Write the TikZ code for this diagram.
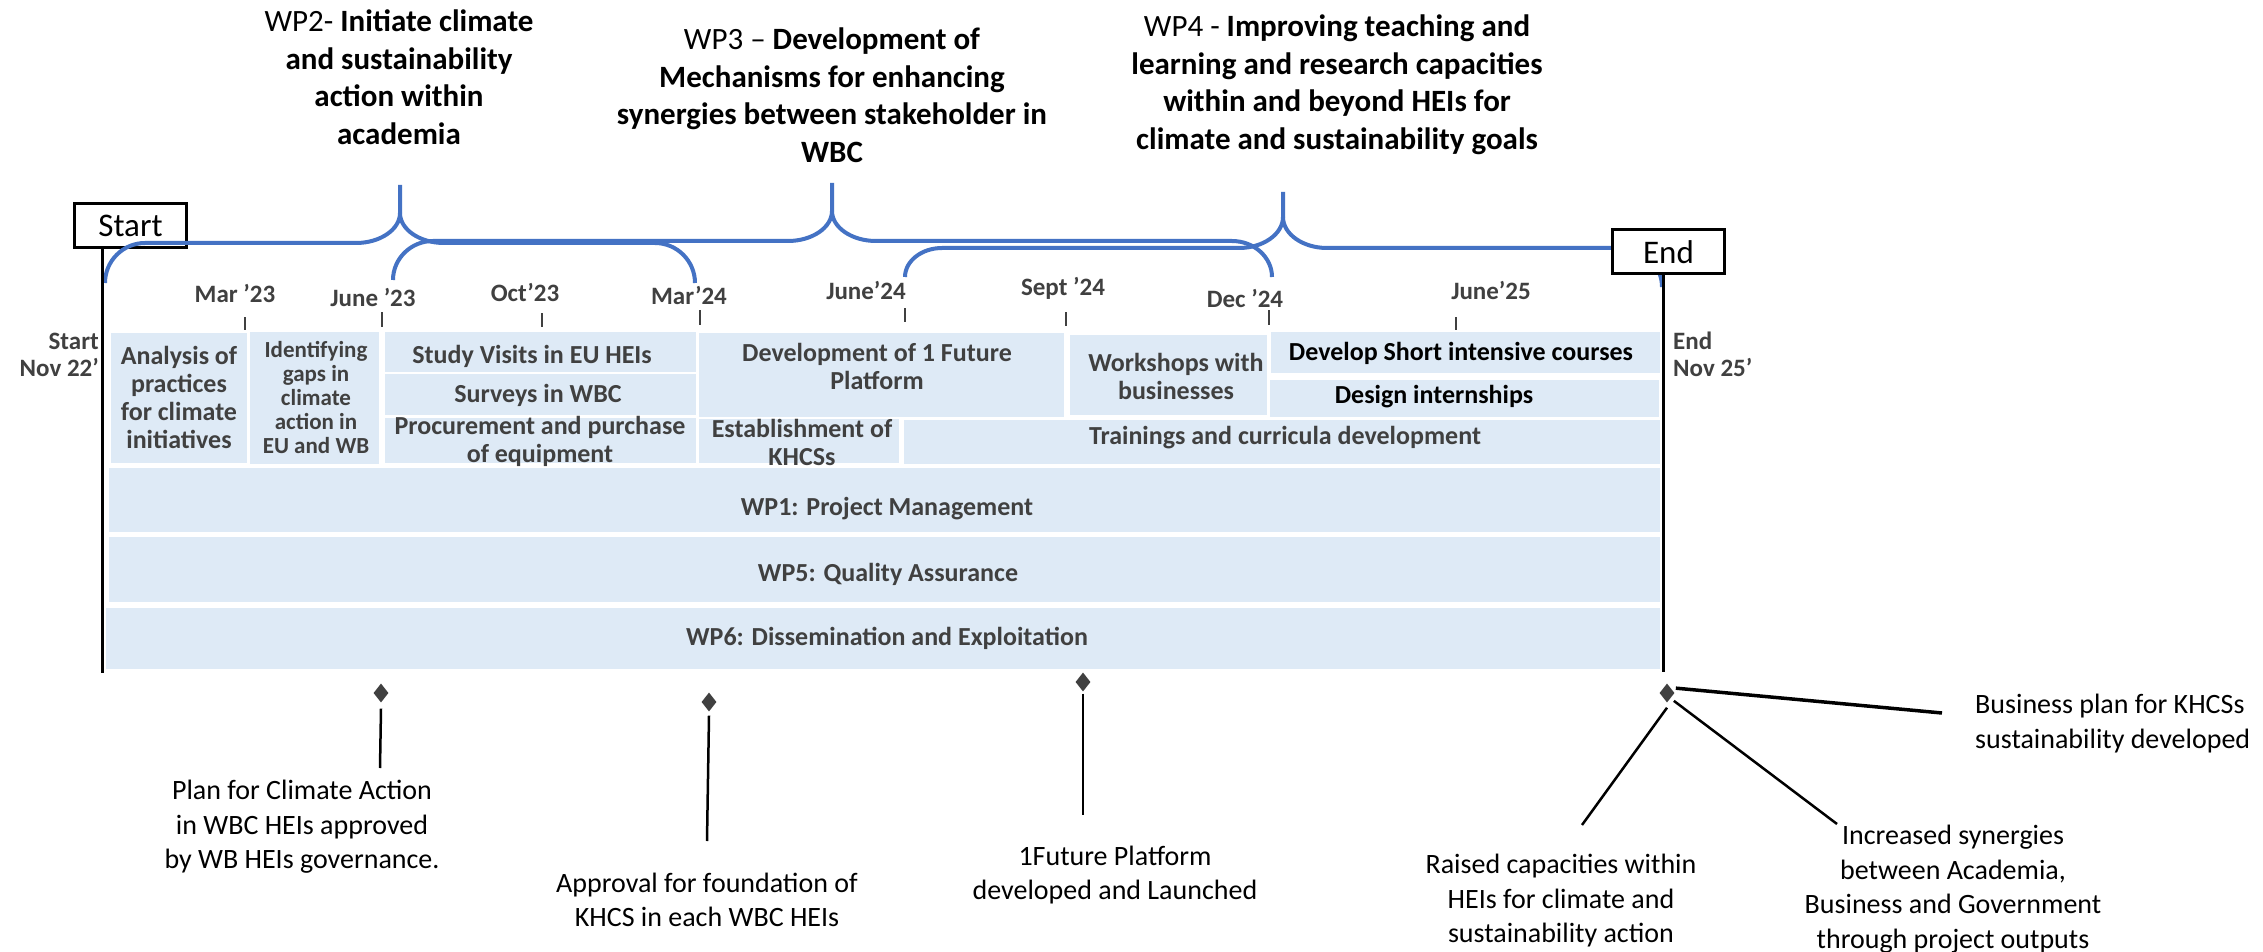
\documentclass[tikz,border=0pt]{standalone}
\usepackage{fontspec}
\setmainfont{Carlito}
\usetikzlibrary{shapes.geometric}
\definecolor{wpblue}{HTML}{4472C4}
\definecolor{boxfill}{HTML}{DEEAF6}
\definecolor{txtgray}{HTML}{404040}
\newcommand\wpbrace[9]{%
 % #1 xl, #2 yend-left, #3 r-left, #4 xt, #5 yh, #6 ytip, #7 ytop, #8 xr, #9 yend-right
 \draw[brace] (#1,#2) .. controls (#1,{#2+0.55*(#5-#2)}) and ({#1+0.45*#3},#5) .. ({#1+#3},#5)
   -- ({#4-44},#5) .. controls ({#4-0.45*44},#5) and (#4,{#6+0.55*(#5-#6)}) .. (#4,#6) -- (#4,#7);
 \draw[brace] (#4,#6) .. controls (#4,{#6+0.55*(#5-#6)}) and ({#4+0.45*44},#5) .. ({#4+44},#5)
   -- ({#8-40},#5) .. controls ({#8-0.45*40},#5) and (#8,{#9+0.55*(#5-#9)}) .. (#8,#9);}
\begin{document}
\begin{tikzpicture}[x=1pt,y=-1pt,
 bx/.style={rectangle, fill=boxfill, draw=none, inner sep=0pt},
 btxt/.style={font=\fontsize{26}{28}\selectfont\bfseries, text=txtgray, align=center, inner sep=0pt},
 ttl/.style={font=\fontsize{31}{37.5}\selectfont, align=center, inner sep=0pt},
 datel/.style={font=\fontsize{25}{27}\selectfont\bfseries, text=txtgray, inner sep=0pt},
 tickl/.style={draw=txtgray, line width=2pt},
 brace/.style={draw=wpblue, line width=4pt},
 tbox/.style={draw=black, line width=3pt, fill=white, font=\fontsize{33}{36}\selectfont, minimum width=112pt, minimum height=44pt, inner sep=0pt},
 vline/.style={draw=black, line width=3pt},
 dia/.style={diamond, fill=txtgray, inner sep=0pt, minimum width=15pt, minimum height=19pt},
 ms/.style={draw=black, line width=2.5pt},
 mtxt/.style={font=\fontsize{28}{34.5}\selectfont, align=center, inner sep=0pt},
]
\fill[white] (0,0) rectangle (2263,952);
\useasboundingbox (0,0) rectangle (2263,952);

% titles
\node[ttl] (wp2) at (399,77) {WP2- \textbf{Initiate climate}\\\textbf{and sustainability}\\\textbf{action within}\\\textbf{academia}};
\node[ttl] (wp3) at (832,95) {WP3 – \textbf{Development of}\\\textbf{Mechanisms for enhancing}\\\textbf{synergies between stakeholder in}\\\textbf{WBC}};
\node[ttl] (wp4) at (1337,85) {WP4 - \textbf{Improving teaching and}\\\textbf{learning and research capacities}\\\textbf{within and beyond HEIs for}\\\textbf{climate and sustainability goals}};

% start box
\node[tbox] (sbox) at (130.5,225.5) {Start};

% braces
\wpbrace{105}{283}{40}{400}{243}{213}{185}{695}{283}
\wpbrace{393}{280}{40}{832}{241}{211}{183}{1272}{277}
\wpbrace{905}{277}{37}{1283}{248}{217}{192}{1662}{287}

% end box
\node[tbox] (ebox) at (1668.5,252) {End};

% vertical start/end lines
\coordinate (sl) at (102,673);
\coordinate (el) at (1663,672);
\draw[vline] (sbox.south -| sl) -- (sl);
\draw[vline] (ebox.south -| el) -- (el);

% start/end labels
\node[datel, align=right, anchor=east] (slab) at (99,355) {Start\\Nov 22’};
\node[datel, align=left, anchor=west] (elab) at (1673,354) {End\\Nov 25’};

% date labels and ticks
\node[datel] (d1) at (235,293) {Mar ’23};
\node[datel] (d2) at (373,297) {June ’23};
\node[datel] (d3) at (525,292) {Oct’23};
\node[datel] (d4) at (689,295) {Mar’24};
\node[datel] (d5) at (866,290) {June’24};
\node[datel] (d6) at (1063,288) {Sept ’24};
\node[datel] (d7) at (1245,298) {Dec ’24};
\node[datel] (d8) at (1491,290) {June’25};
\draw[tickl] (245,317) -- (245,330);
\draw[tickl] (382,312) -- (382,327);
\draw[tickl] (542,313) -- (542,327);
\draw[tickl] (700,310) -- (700,325);
\draw[tickl] (905,308) -- (905,322);
\draw[tickl] (1066,312) -- (1066,326);
\draw[tickl] (1269,310) -- (1269,325);
\draw[tickl] (1456,317) -- (1456,330);

% boxes
\node[bx, minimum width=136pt, minimum height=130pt] (ana) at (179,398) {};
\node[bx, minimum width=129pt, minimum height=132pt] (idf) at (314.5,398) {};
\node[bx, minimum width=311pt, minimum height=40pt] (stu) at (540.5,352) {};
\node[bx, minimum width=311pt, minimum height=41pt] (sur) at (540.5,394.5) {};
\node[bx, minimum width=311pt, minimum height=45pt] (pro) at (540.5,440.5) {};
\node[bx, minimum width=365pt, minimum height=84pt] (dev) at (881.5,375) {};
\node[bx, minimum width=200pt, minimum height=44pt] (est) at (799,441) {};
\node[bx, minimum width=197pt, minimum height=80pt] (wor) at (1168.5,375) {};
\node[bx, minimum width=389pt, minimum height=41pt] (dsc) at (1465.5,352.5) {};
\node[bx, minimum width=389pt, minimum height=37pt] (din) at (1464.5,398.5) {};
\node[bx, minimum width=756pt, minimum height=44pt] (tra) at (1282,442) {};
\node[bx, minimum width=1551pt, minimum height=64pt] (wp1) at (884.5,500) {};
\node[bx, minimum width=1551pt, minimum height=65pt] (wp5) at (884.5,569.5) {};
\node[bx, minimum width=1554pt, minimum height=61pt] (wp6) at (883,638.5) {};

% box texts
\node[btxt] (anat) at (179,397) {Analysis of\\practices\\for climate\\initiatives};
\node[btxt, font=\fontsize{23}{24}\selectfont\bfseries] (idft) at (316,397) {Identifying\\gaps in\\climate\\action in\\EU and WB};
\node[btxt] (stut) at (532,356) {Study Visits in EU HEIs};
\node[btxt] (surt) at (538,395) {Surveys in WBC};
\node[btxt] (prot) at (540,441) {Procurement and purchase\\of equipment};
\node[btxt] (devt) at (877,366) {Development of 1 Future\\Platform};
\node[btxt] (estt) at (802,442) {Establishment of\\KHCSs};
\node[btxt] (wort) at (1176,376) {Workshops with\\businesses};
\node[btxt, text=black] (dsct) at (1461,353) {Develop Short intensive courses};
\node[btxt, text=black] (dint) at (1434,397) {Design internships};
\node[btxt] (trat) at (1285,438) {Trainings and curricula development};
\node[btxt] (wp1t) at (887,509) {WP1: Project Management};
\node[btxt] (wp5t) at (888,574) {WP5: Quality Assurance};
\node[btxt] (wp6t) at (887,638) {WP6: Dissemination and Exploitation};

% milestones
\node[dia] (m1) at (381,693) {};
\node[dia] (m2) at (709,702) {};
\node[dia] (m3) at (1083,682) {};
\node[dia] (m4) at (1667,693) {};

\node[mtxt] (m1t) at (302,827) {Plan for Climate Action\\in WBC HEIs approved\\by WB HEIs governance.};
\node[mtxt] (m2t) at (707,900) {Approval for foundation of\\KHCS in each WBC HEIs};
\node[mtxt] (m3t) at (1115,875) {1Future Platform\\developed and Launched};
\node[mtxt, align=left, anchor=west] (m4a) at (1975,723.5) {Business plan for KHCSs\\sustainability developed};
\node[mtxt] (m4b) at (1561,901) {Raised capacities within\\HEIs for climate and\\sustainability action};
\node[mtxt] (m4c) at (1953,889) {Increased synergies\\between Academia,\\Business and Government\\through project outputs};

\coordinate (m1e) at (380,768);
\coordinate (m2e) at (707,841);
\coordinate (m3e) at (1083,815);
\coordinate (m4ae) at (1942,713);
\coordinate (m4be) at (1582,825);
\coordinate (m4ce) at (1837,824);
\draw[ms] ([yshift=-6pt]m1.south) -- (m1e);
\draw[ms] ([yshift=-4pt]m2.south) -- (m2e);
\draw[ms] ([yshift=-2pt]m3.south) -- (m3e);
\draw[ms, line width=3.5pt] ([xshift=5pt]m4.north east) -- (m4ae);
\draw[ms] ([yshift=-5pt]m4.south) -- (m4be);
\draw[ms] ([xshift=3pt,yshift=-3pt]m4.south east) -- (m4ce);
\end{tikzpicture}
\end{document}
